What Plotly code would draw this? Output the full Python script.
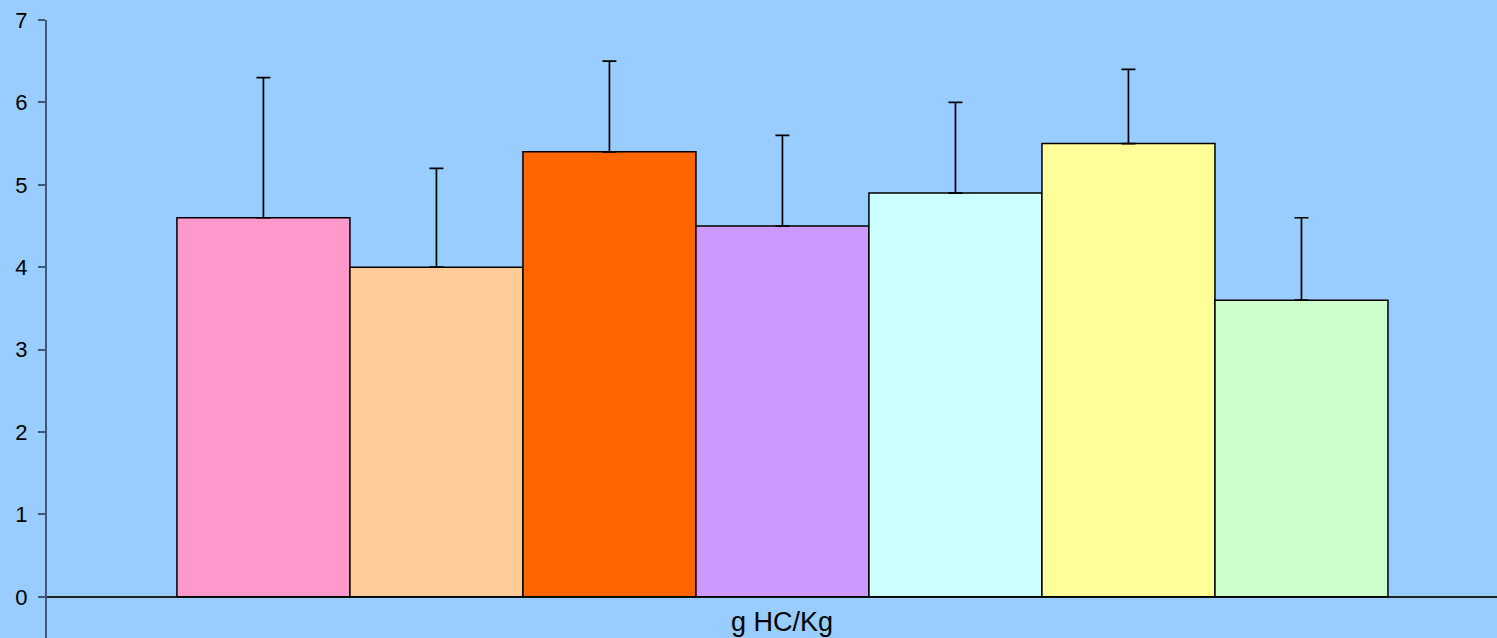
import plotly.graph_objects as go

categories = ["g HC/Kg"]
series_names = ["Serie 1", "Serie 2", "Serie 3", "Serie 4", "Serie 5", "Serie 6", "Serie 7"]
values = [4.6, 4.0, 5.4, 4.5, 4.9, 5.5, 3.6]
errors_plus = [1.7, 1.2, 1.1, 1.1, 1.1, 0.9, 1.0]
colors = ["#FF99CC", "#FFCC99", "#FF6600", "#CC99FF", "#CCFFFF", "#FFFF99", "#CCFFCC"]
y_ticks = [0, 1, 2, 3, 4, 5, 6, 7]

fig = go.Figure()
for name, v, e, c in zip(series_names, values, errors_plus, colors):
    fig.add_trace(go.Bar(
        x=categories, y=[v], name=name,
        marker=dict(color=c, line=dict(color="black", width=1.5)),
        error_y=dict(type="data", symmetric=False, array=[e], arrayminus=[0],
                     color="black", thickness=1.7, width=7),
    ))

fig.update_layout(
    width=1497, height=638,
    margin=dict(l=47, r=0, t=20, b=0, autoexpand=False),
    paper_bgcolor="#99CCFF", plot_bgcolor="#99CCFF",
    barmode="group", bargap=0.1648, bargroupgap=0,
    showlegend=False,
    font=dict(family="Liberation Sans, Arial, sans-serif", color="black"),
    xaxis=dict(type="category", range=[-0.5072, 0.4928], showticklabels=False,
               showgrid=False, showline=False, ticks="", zeroline=False,
               automargin=False),
    yaxis=dict(range=[-0.5, 7], tickvals=y_ticks, showgrid=False,
               showline=True, linecolor="#405878", linewidth=2,
               ticks="outside", ticklen=7, tickcolor="#405878", tickwidth=1.5,
               ticklabelstandoff=6, automargin=False, ticklabeloverflow="allow",
               tickfont=dict(size=22), zeroline=True, zerolinecolor="#222222",
               zerolinewidth=2),
)
fig.add_annotation(x=categories[0], y=-0.3, xref="x", yref="y", text=categories[0],
                   showarrow=False, font=dict(size=27, color="black"))

fig.write_html(
    "out.html",
    config={"displayModeBar": False},
    post_script="document.body.style.margin='0';"
                "document.body.style.background='#99CCFF';"
                "document.documentElement.style.background='#99CCFF';"
                "document.body.style.overflow='hidden';",
)
